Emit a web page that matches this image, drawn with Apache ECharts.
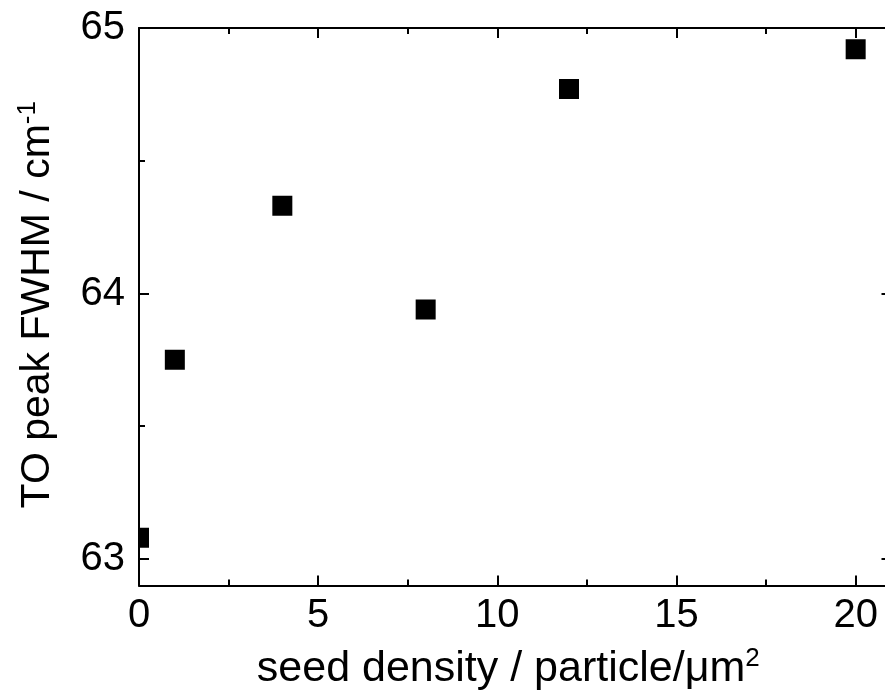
<!DOCTYPE html>
<html>
<head>
<meta charset="utf-8">
<script src="https://cdn.jsdelivr.net/npm/echarts@6/dist/echarts.min.js"></script>
<style>
html,body{margin:0;padding:0;background:#fff;overflow:hidden;}
#chart{width:896px;height:696px;}
</style>
</head>
<body>
<div id="chart"></div>
<script>
const seedDensity = [0, 1, 4, 8, 12, 20];
const fwhm = [63.08, 63.75, 64.33, 63.94, 64.77, 64.92];
const xMajorTicks = [0, 5, 10, 15, 20];
const xMinorTicks = [2.5, 7.5, 12.5, 17.5];
const yMajorTicks = [63, 64, 65];
const yMinorTicks = [63.5, 64.5];
const xRange = [0, 21];
const yRange = [62.9, 65];

const FONT = '"Liberation Sans", Arial, sans-serif';
const lineStyle = {color: '#000', width: 2};

function xAx(pos, ticks, len, showLine, showLabel, extra) {
  return Object.assign({
    type: 'value', position: pos, min: xRange[0], max: xRange[1],
    axisLine: {show: showLine, onZero: false, lineStyle: lineStyle},
    axisTick: {show: true, inside: true, length: len, customValues: ticks, lineStyle: {color: '#000', width: 2}},
    axisLabel: {show: showLabel, customValues: ticks, fontSize: 40, color: '#000', fontFamily: FONT, margin: 10},
    splitLine: {show: false}
  }, extra || {});
}
function yAx(pos, ticks, len, showLine, showLabel, extra) {
  return Object.assign({
    type: 'value', position: pos, min: yRange[0], max: yRange[1],
    axisLine: {show: showLine, onZero: false, lineStyle: lineStyle},
    axisTick: {show: true, inside: true, length: len, customValues: ticks, lineStyle: {color: '#000', width: 2}},
    axisLabel: {show: showLabel, customValues: ticks, fontSize: 40, color: '#000', fontFamily: FONT, margin: 14},
    splitLine: {show: false}
  }, extra || {});
}

const chart = echarts.init(document.getElementById('chart'), null, {renderer: 'canvas'});
chart.setOption({
  animation: false,
  backgroundColor: '#fff',
  grid: {left: 139, right: 4.5, top: 28, bottom: 107, containLabel: false},
  xAxis: [
    xAx('bottom', xMajorTicks, 10, true, true, {
      name: '{a|seed density / particle/μm}{s|2}',
      nameLocation: 'middle', nameGap: 60,
      nameTextStyle: {
        color: '#000', fontFamily: FONT, padding: [0, 14, 0, 0],
        rich: {
          a: {fontSize: 43, fontFamily: FONT, color: '#000', lineHeight: 48},
          s: {fontSize: 26, fontFamily: FONT, color: '#000', verticalAlign: 'top', lineHeight: 26}
        }
      }
    }),
    xAx('bottom', xMinorTicks, 6, false, false),
    xAx('top', xMajorTicks, 10, true, false),
    xAx('top', xMinorTicks, 6, false, false)
  ],
  yAxis: [
    yAx('left', yMajorTicks, 10, true, true, {
      name: '{a|TO peak FWHM / cm}{s|-1}',
      nameLocation: 'middle', nameGap: 78, nameRotate: 90,
      nameTextStyle: {
        color: '#000', fontFamily: FONT, padding: [0, 0, 0, 4],
        rich: {
          a: {fontSize: 41, fontFamily: FONT, color: '#000', lineHeight: 46},
          s: {fontSize: 26, fontFamily: FONT, color: '#000', verticalAlign: 'top', lineHeight: 26}
        }
      }
    }),
    yAx('left', yMinorTicks, 6, false, false),
    yAx('right', yMajorTicks, 10, true, false),
    yAx('right', yMinorTicks, 6, false, false)
  ],
  series: [{
    type: 'custom',
    xAxisIndex: 0, yAxisIndex: 0,
    clip: true,
    data: seedDensity.map((x, i) => [x, fwhm[i]]),
    encode: {x: 0, y: 1},
    renderItem: function (params, api) {
      const p = api.coord([api.value(0), api.value(1)]);
      const s = 20;
      return {
        type: 'rect',
        shape: {x: p[0] - s / 2, y: p[1] - s / 2, width: s, height: s},
        style: {fill: '#000'}
      };
    }
  }]
});
</script>
</body>
</html>
